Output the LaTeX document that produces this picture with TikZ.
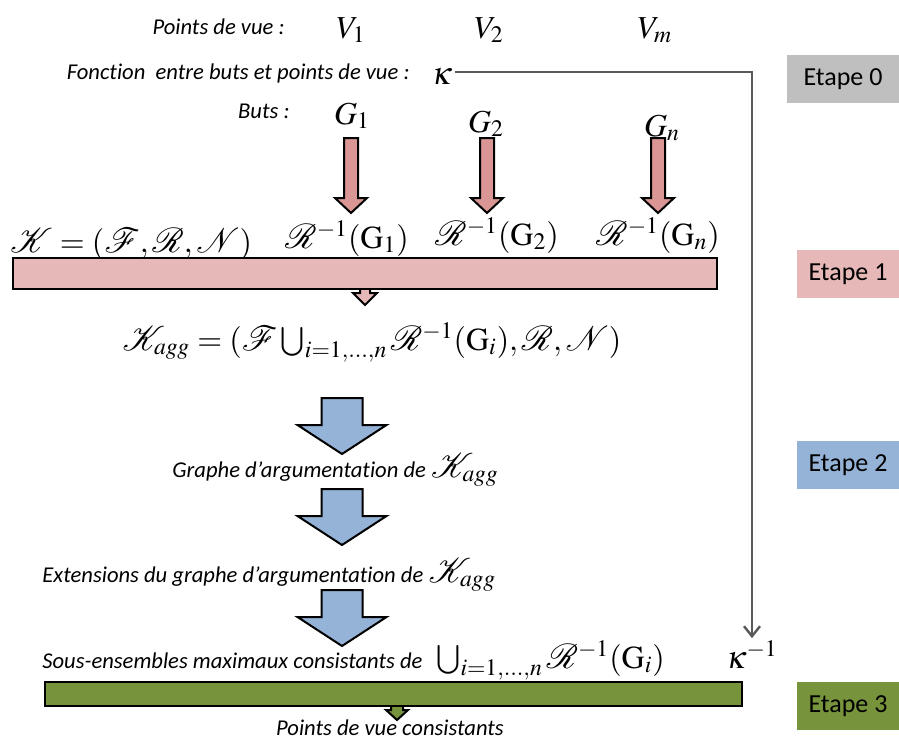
\documentclass[tikz,border=0pt]{standalone}
\usepackage{mathptmx}
\usepackage{mathrsfs}
\usepackage[no-math]{fontspec}
\setmainfont{Carlito}[Ligatures=NoCommon]
\usetikzlibrary{arrows.meta}
\definecolor{rose}{HTML}{D99694}
\definecolor{rosebar}{HTML}{E6B9B8}
\definecolor{bleu}{HTML}{95B3D7}
\definecolor{vert}{HTML}{77933C}
\definecolor{gris}{HTML}{BFBFBF}
\definecolor{trait}{HTML}{595959}
\newcommand{\grandmath}{\fontsize{16}{18}\selectfont\upshape}

\begin{document}
\begin{tikzpicture}[x=0.5pt, y=-0.5pt,
  etiq/.style={font=\fontsize{11.3}{13}\selectfont\itshape, inner sep=0pt},
  formule/.style={font=\fontsize{16}{18}\selectfont, inner sep=1pt},
  etape/.style={font=\fontsize{13}{15}\selectfont, minimum width=51pt, minimum height=24pt, inner sep=0pt},
  fleche/.style={draw=black, line width=1pt, line join=miter},
  barre/.style={draw=black, line width=1pt},
  liaison/.style={draw=trait, line width=1.2pt, -{Straight Barb[length=5pt,width=8pt]}}]
\useasboundingbox (0,0) rectangle (899,740);

% Etape 0 : points de vue, fonction, buts
\node[etiq, anchor=base east] (pv) at (285,34) {Points de vue :};
\node[formule, anchor=base] (v1) at (351,38) {$V_1$};
\node[formule, anchor=base] (v2) at (489,38) {$V_2$};
\node[formule, anchor=base] (vm) at (655,38) {$V_m$};
\node[etiq, anchor=base east] (fct) at (410,79) {Fonction\ \ entre buts et points de vue :};
\node[formule, anchor=base] (kappa) at (442,84) {$\kappa$};
\node[etiq, anchor=base east] (buts) at (290,118) {Buts :};
\node[formule, anchor=base] (g1) at (352,124) {$G_1$};
\node[formule, anchor=base] (g2) at (486,132) {$G_2$};
\node[formule, anchor=base] (gn) at (662,136) {$G_n$};

% fleches roses vers R^-1
\foreach \c in {351,487,658}
  \draw[fleche, fill=rose] (\c-7,138) -- (\c+7,138) -- (\c+7,198) -- (\c+16,198)
    -- (\c,213) -- (\c-16,198) -- (\c-7,198) -- cycle;

% Etape 1
\node[formule, anchor=base west] (kb) at (8,252) {$\mathscr{K} = (\mathscr{F},\mathscr{R},\mathscr{N})$};
\node[formule, anchor=base] (rg1) at (347,248) {$\mathscr{R}^{-1}(\mathrm{G}_1)$};
\node[formule, anchor=base] (rg2) at (497,245) {$\mathscr{R}^{-1}(\mathrm{G}_2)$};
\node[formule, anchor=base] (rgn) at (658,245) {$\mathscr{R}^{-1}(\mathrm{G}_n)$};
\draw[fleche, fill=rosebar] (360,285) -- (370,285) -- (370,293) -- (377,293) -- (365,305)
  -- (353,293) -- (360,293) -- cycle;
\draw[barre, fill=rosebar] (13,258) rectangle (717,289);
\node[formule, anchor=base] (kagg) at (372,350)
  {$\mathscr{K}_{agg} = (\mathscr{F}\bigcup_{i=1,\ldots,n}\mathscr{R}^{-1}(\mathrm{G}_i),\mathscr{R},\mathscr{N})$};

% Etape 2 : fleches bleues
\foreach \h in {398,489,590}
  \draw[fleche, fill=bleu] (321.5,\h) -- (362.5,\h) -- (362.5,\h+27) -- (386.5,\h+27)
    -- (342,\h+56) -- (297.5,\h+27) -- (321.5,\h+27) -- cycle;
\node[etiq, anchor=base west] (graphe) at (172,477)
  {Graphe d’argumentation de {\grandmath$\mathscr{K}_{agg}$}};
\node[etiq, anchor=base west] (ext) at (42,582)
  {Extensions du graphe d’argumentation de {\grandmath$\mathscr{K}_{agg}$}};

% Etape 3
\node[etiq, anchor=base west] (sous) at (42,668)
  {Sous-ensembles maximaux consistants de\hspace{7pt}{\grandmath$\bigcup_{i=1,\ldots,n}\mathscr{R}^{-1}(\mathrm{G}_i)$}};
\node[formule, anchor=base] (kinv) at (752,668) {$\kappa^{-1}$};
\draw[fleche, fill=vert] (391,702) -- (403,702) -- (403,710) -- (408,710) -- (397,720)
  -- (386,710) -- (391,710) -- cycle;
\draw[barre, fill=vert] (45,682) rectangle (742,706);
\node[etiq, anchor=base] (pvc) at (390,735) {Points de vue consistants};

% kappa vers kappa^-1
\draw[liaison] ([yshift=2pt]kappa.east) -| (kinv.north);

% etapes
\node[etape, fill=gris, minimum width=56pt] (e0) at (843,79) {Etape 0};
\node[etape, fill=rosebar] (e1) at (848,274) {Etape 1};
\node[etape, fill=bleu] (e2) at (848,465) {Etape 2};
\node[etape, fill=vert] (e3) at (848,706) {Etape 3};
\end{tikzpicture}
\end{document}
